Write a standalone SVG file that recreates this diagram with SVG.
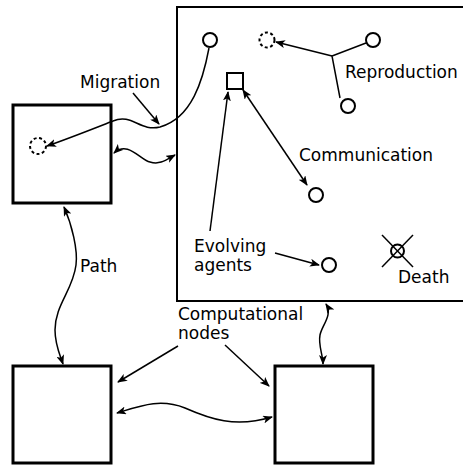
<svg xmlns="http://www.w3.org/2000/svg" width="463" height="465" viewBox="0 0 463 465">
<style>
text{font-family:"DejaVu Sans","Noto Sans",sans-serif;font-size:17px;fill:#000}
.box{fill:none;stroke:#000;stroke-width:3}
.big{fill:none;stroke:#000;stroke-width:2}
.ag{fill:#fff;stroke:#000;stroke-width:2}
.dash{fill:#fff;stroke:#000;stroke-width:2;stroke-dasharray:3,2.5}
.c{fill:none;stroke:#000;stroke-width:1.5}
.a{marker-end:url(#ah)}
.b{marker-end:url(#ah);marker-start:url(#ah)}
</style>
<defs>
<marker id="ah" viewBox="0 0 10 8" refX="9" refY="4" markerWidth="10" markerHeight="8" markerUnits="userSpaceOnUse" orient="auto-start-reverse">
<path d="M0,0 L10,4 L0,8 L2.5,4 z" fill="#000"/>
</marker>
</defs>
<g id="env"><rect class="big" x="177" y="7" width="300" height="294"/></g>
<g id="node-left"><rect class="box" x="13" y="105" width="98" height="98"/></g>
<g id="node-bl"><rect class="box" x="13" y="366" width="98" height="97"/></g>
<g id="node-br"><rect class="box" x="275" y="366" width="98" height="97"/></g>
<g id="agents">
<circle class="ag" cx="210" cy="40" r="7"/>
<circle class="dash" cx="38" cy="146" r="8"/>
<rect class="ag" x="227" y="73" width="16" height="16"/>
<circle class="dash" cx="267" cy="40" r="7.5"/>
<circle class="ag" cx="373" cy="40" r="7"/>
<circle class="ag" cx="348" cy="106" r="7"/>
<circle class="ag" cx="316" cy="195" r="7"/>
<circle class="ag" cx="329" cy="265" r="7"/>
</g>
<g id="death">
<circle class="ag" cx="397.5" cy="251" r="6.5"/>
<line class="c" x1="382" y1="235" x2="413" y2="267"/>
<line class="c" x1="413" y1="235" x2="382" y2="267"/>
</g>
<g id="connectors">
<path class="c a" d="M209,48 C203,80 192,118 160,127 C140,132 132,113 113,121 C95,128 70,138 47,146"/>
<path class="c a" d="M133,93 L159,124"/>
<path class="c b" d="M114,153 C128,140 140,160 150,162 C160,165 166,160 175,155"/>
<path class="c b" d="M64,207 C72,225 78,250 76,265 C73,290 55,305 55,330 C55,345 60,355 63,364"/>
<path class="c a" d="M178,346 L118,382"/>
<path class="c a" d="M225,345 L269,386"/>
<path class="c b" d="M117,413 C140,406 160,398 185,408 C210,419 235,428 272,417"/>
<path class="c b" d="M326,304 C333,315 322,325 320,335 C318,345 323,355 323,364"/>
<path class="c b" d="M243,90 L307,185"/>
<path class="c a" d="M210,231 L228,92"/>
<path class="c a" d="M275,253 L319,265"/>
<path class="c" d="M366,43 L332,56 L340,98"/>
<path class="c a" d="M332,56 L276,42"/>
</g>
<g id="labels">
<text x="80" y="88">Migration</text>
<text x="345" y="78">Reproduction</text>
<text x="299" y="161">Communication</text>
<text x="194" y="252">Evolving</text>
<text x="194" y="271">agents</text>
<text x="80" y="272">Path</text>
<text x="178" y="320">Computational</text>
<text x="178" y="339">nodes</text>
<text x="398" y="283">Death</text>
</g>
</svg>
